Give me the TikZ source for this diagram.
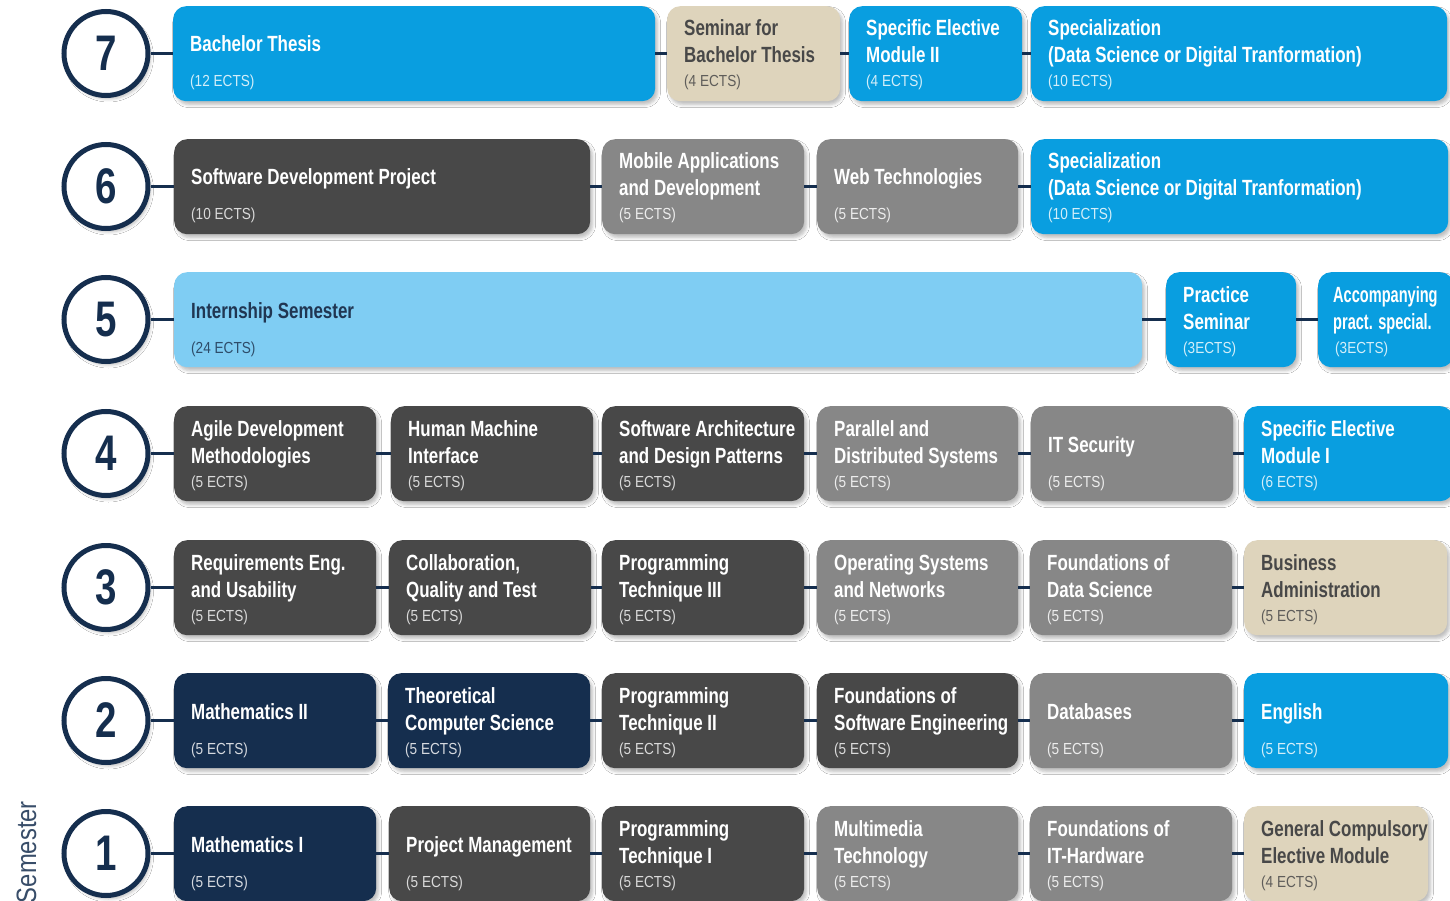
\documentclass[tikz,border=0pt]{standalone}
\usepackage{fontspec}
\setmainfont{Liberation Sans}
\newfontfamily\tfont[FakeStretch=0.77]{Liberation Sans}
\newfontfamily\efont[FakeStretch=0.85]{Liberation Sans}
\newfontfamily\sfont[FakeStretch=0.85]{Liberation Sans}
\usetikzlibrary{shadows.blur}
\definecolor{cblue}{RGB}{9,158,224}
\definecolor{clblue}{RGB}{127,205,243}
\definecolor{cdark}{RGB}{72,72,72}
\definecolor{cgray}{RGB}{135,135,135}
\definecolor{cbeige}{RGB}{222,212,188}
\definecolor{cnavy}{RGB}{21,46,78}
\definecolor{cbtext}{RGB}{72,72,72}
\definecolor{cltext}{RGB}{32,54,82}
\tikzset{
  modbox/.style={rounded corners=13pt, anchor=north west, inner sep=0pt,
    minimum height=95pt,
    blur shadow={shadow xshift=2.5pt, shadow yshift=-3.5pt, shadow blur radius=3pt, shadow opacity=25}},
  ttl/.style={anchor=base west, inner sep=0pt, font=\tfont\bfseries\fontsize{22}{27}\selectfont},
  ects/.style={anchor=base west, inner sep=0pt, font=\efont\fontsize{16}{18}\selectfont},
  kind blue/.style={fill=cblue}, tk blue/.style={text=white}, ek blue/.style={text=white!82!cblue},
  kind lblue/.style={fill=clblue}, tk lblue/.style={text=cltext}, ek lblue/.style={text=cltext!85!clblue},
  kind dark/.style={fill=cdark}, tk dark/.style={text=white}, ek dark/.style={text=white!80!cdark},
  kind gray/.style={fill=cgray}, tk gray/.style={text=white}, ek gray/.style={text=white!85!cgray},
  kind navy/.style={fill=cnavy}, tk navy/.style={text=white}, ek navy/.style={text=white!82!cnavy},
  kind beige/.style={fill=cbeige}, tk beige/.style={text=cbtext}, ek beige/.style={text=cbtext!85!cbeige},
  semcirc/.style={circle, draw=cnavy, line width=5pt, fill=white, minimum size=84pt, inner sep=0pt,
    text=cnavy, font=\tfont\bfseries\fontsize{50}{50}\selectfont,
    blur shadow={shadow xshift=2.5pt, shadow yshift=-3.5pt, shadow blur radius=3pt, shadow opacity=25}},
  conn/.style={draw=cnavy, line width=3.5pt}
}
% name, x1, x2, ytop, kind, line1, line2, ects
\newcommand\modul[8]{%
  \node[modbox, kind #5, minimum width={(#3-#2)*1pt}] (#1) at (#2,#4) {};
  \if\relax\detokenize{#7}\relax
    \node[ttl, tk #5] (#1-t1) at ([shift={(17,46)}]#1.north west) {#6};
  \else
    \node[ttl, tk #5] (#1-t1) at ([shift={(17,30)}]#1.north west) {#6};
    \node[ttl, tk #5] (#1-t2) at ([shift={(17,57)}]#1.north west) {#7};
  \fi
  \node[ects, ek #5] (#1-e) at ([shift={(17,81)}]#1.north west) {#8};
}
\begin{document}
\begin{tikzpicture}[x=1pt, y=-1pt]
\useasboundingbox (0,0) rectangle (1450,901);
\fill[white] (0,0) rectangle (1450,901);
\clip (0,0) rectangle (1450,901);
% circles
\node[semcirc] (c7) at (106,53.5) {7};
\node[semcirc] (c6) at (106,186.5) {6};
\node[semcirc] (c5) at (106,319.5) {5};
\node[semcirc] (c4) at (106,453.5) {4};
\node[semcirc] (c3) at (106,587.5) {3};
\node[semcirc] (c2) at (106,720.5) {2};
\node[semcirc] (c1) at (106,853.5) {1};
\node[rotate=90, anchor=base east, inner sep=0pt, text=cnavy!85!white,
  font=\sfont\fontsize{28}{28}\selectfont] (semlabel) at (36,801) {Semester};
% row 7
\modul{bt}{173}{655}{6}{blue}{Bachelor Thesis}{}{(12 ECTS)}
\modul{sbt}{667}{840}{6}{beige}{Seminar for}{Bachelor Thesis}{(4 ECTS)}
\modul{sem2}{849}{1022}{6}{blue}{Specific Elective}{Module II}{(4 ECTS)}
\modul{spec7}{1031}{1447}{6}{blue}{Specialization}{(Data Science or Digital Tranformation)}{(10 ECTS)}
% row 6
\modul{sdp}{174}{590}{139}{dark}{Software Development Project}{}{(10 ECTS)}
\modul{mad}{602}{804}{139}{gray}{Mobile Applications}{and Development}{(5 ECTS)}
\modul{web}{817}{1018}{139}{gray}{Web Technologies}{}{(5 ECTS)}
\modul{spec6}{1031}{1448}{139}{blue}{Specialization}{(Data Science or Digital Tranformation)}{(10 ECTS)}
% row 5
\modul{intern}{174}{1142}{272}{lblue}{Internship Semester}{}{(24 ECTS)}
\modul{prac}{1166}{1296}{272}{blue}{Practice}{Seminar}{(3ECTS)}
\modul{acc}{1318}{1453}{272}{blue}{\hspace*{-2pt}\scalebox{0.86}[1]{Accompanying}}{\hspace*{-2pt}\scalebox{0.86}[1]{pract. special.}}{(3ECTS)}
% row 4
\modul{agile}{174}{376}{406}{dark}{Agile Development}{Methodologies}{(5 ECTS)}
\modul{hmi}{391}{593}{406}{dark}{Human Machine}{Interface}{(5 ECTS)}
\modul{swa}{602}{804}{406}{dark}{Software Architecture}{and Design Patterns}{(5 ECTS)}
\modul{pds}{817}{1018}{406}{gray}{Parallel and}{Distributed Systems}{(5 ECTS)}
\modul{itsec}{1031}{1233}{406}{gray}{IT Security}{}{(5 ECTS)}
\modul{sem1}{1244}{1453}{406}{blue}{Specific Elective}{Module I}{(6 ECTS)}
% row 3
\modul{req}{174}{376}{540}{dark}{Requirements Eng.}{and Usability}{(5 ECTS)}
\modul{cqt}{389}{591}{540}{dark}{Collaboration,}{Quality and Test}{(5 ECTS)}
\modul{pt3}{602}{804}{540}{dark}{Programming}{Technique III}{(5 ECTS)}
\modul{osn}{817}{1018}{540}{gray}{Operating Systems}{and Networks}{(5 ECTS)}
\modul{fds}{1030}{1232}{540}{gray}{Foundations of}{Data Science}{(5 ECTS)}
\modul{ba}{1244}{1447}{540}{beige}{Business}{Administration}{(5 ECTS)}
% row 2
\modul{m2}{174}{376}{673}{navy}{Mathematics II}{}{(5 ECTS)}
\modul{tcs}{388}{590}{673}{navy}{Theoretical}{Computer Science}{(5 ECTS)}
\modul{pt2}{602}{804}{673}{dark}{Programming}{Technique II}{(5 ECTS)}
\modul{fse}{817}{1018}{673}{dark}{Foundations of}{Software Engineering}{(5 ECTS)}
\modul{db}{1030}{1232}{673}{gray}{Databases}{}{(5 ECTS)}
\modul{eng}{1244}{1448}{673}{blue}{English}{}{(5 ECTS)}
% row 1
\modul{m1}{174}{376}{806}{navy}{Mathematics I}{}{(5 ECTS)}
\modul{pm}{389}{590}{806}{dark}{Project Management}{}{(5 ECTS)}
\modul{pt1}{602}{804}{806}{dark}{Programming}{Technique I}{(5 ECTS)}
\modul{mmt}{817}{1018}{806}{gray}{Multimedia}{Technology}{(5 ECTS)}
\modul{ith}{1030}{1232}{806}{gray}{Foundations of}{IT-Hardware}{(5 ECTS)}
\modul{gcem}{1244}{1428}{806}{beige}{General Compulsory}{Elective Module}{(4 ECTS)}
% connectors
\foreach \a/\b in {c7/bt,bt/sbt,sbt/sem2,sem2/spec7,
  c6/sdp,sdp/mad,mad/web,web/spec6,
  c5/intern,intern/prac,prac/acc,
  c4/agile,agile/hmi,hmi/swa,swa/pds,pds/itsec,itsec/sem1,
  c3/req,req/cqt,cqt/pt3,pt3/osn,osn/fds,fds/ba,
  c2/m2,m2/tcs,tcs/pt2,pt2/fse,fse/db,db/eng,
  c1/m1,m1/pm,pm/pt1,pt1/mmt,mmt/ith,ith/gcem}
  \draw[conn] (\a.east) -- (\b.west |- \a.east);
\end{tikzpicture}
\end{document}
